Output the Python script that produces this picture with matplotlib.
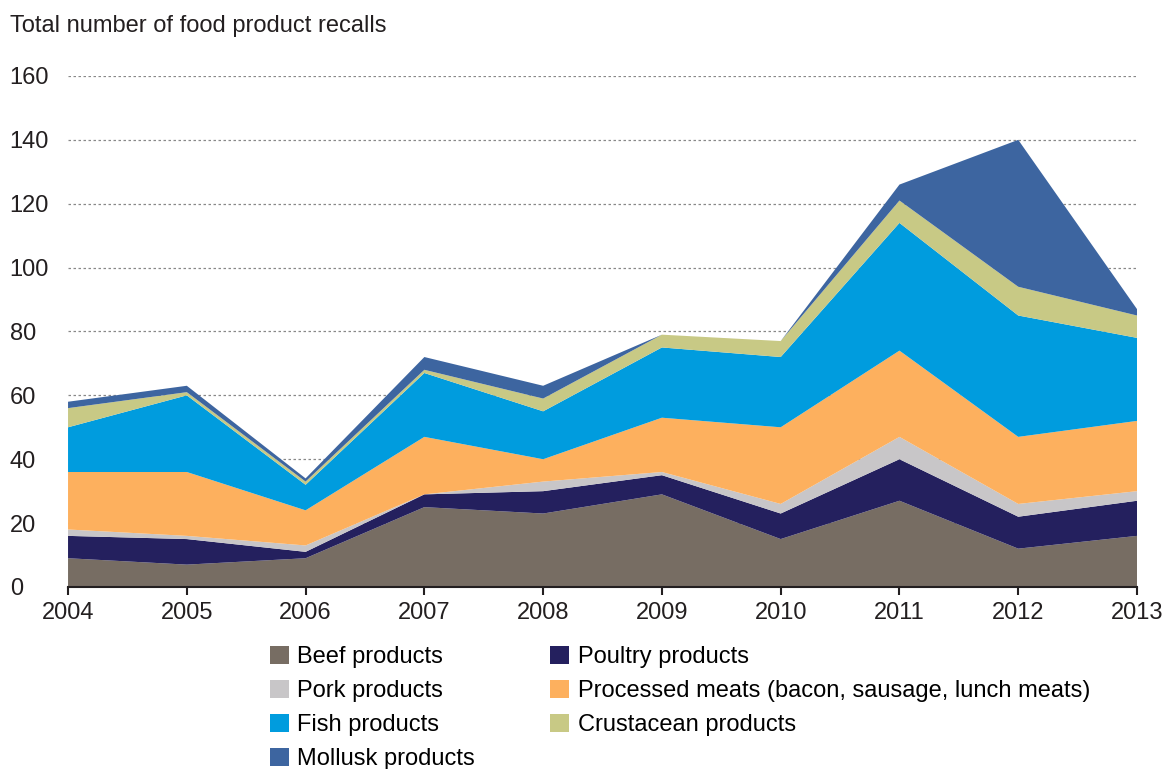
import matplotlib.pyplot as plt
from matplotlib.patches import Patch

plt.rcParams['font.family'] = ['Liberation Sans', 'DejaVu Sans']

years = [2004, 2005, 2006, 2007, 2008, 2009, 2010, 2011, 2012, 2013]
beef = [9, 7, 9, 25, 23, 29, 15, 27, 12, 16]
poultry = [7, 8, 2, 4, 7, 6, 8, 13, 10, 11]
pork = [2, 1, 2, 0, 3, 1, 3, 7, 4, 3]
processed = [18, 20, 11, 18, 7, 17, 24, 27, 21, 22]
fish = [14, 24, 8, 20, 15, 22, 22, 40, 38, 26]
crustacean = [6, 1, 1, 1, 4, 4, 5, 7, 9, 7]
mollusk = [2, 2, 1, 4, 4, 0, 0, 5, 46, 2]

labels = ['Beef products', 'Poultry products', 'Pork products',
          'Processed meats (bacon, sausage, lunch meats)', 'Fish products',
          'Crustacean products', 'Mollusk products']
colors = ['#776d63', '#24205e', '#c8c6c8', '#fdb05e', '#009cde', '#c8c985', '#3d65a0']

fig = plt.figure(figsize=(11.67, 7.69), dpi=100)
ax = fig.add_axes([0.0583, 0.2367, 0.916, 0.6645])

ax.stackplot(years, beef, poultry, pork, processed, fish, crustacean, mollusk,
             colors=colors, linewidth=0)

ax.set_xlim(2004, 2013)
ax.set_ylim(0, 160)
ax.set_yticks(range(0, 161, 20))
ax.set_xticks(years)
for y in range(20, 161, 20):
    ax.axhline(y, color='#888888', linestyle=(0, (2, 2)), linewidth=0.9, zorder=0)

for s in ['top', 'right', 'left']:
    ax.spines[s].set_visible(False)
ax.spines['bottom'].set_color('#231f20')
ax.spines['bottom'].set_linewidth(1.5)
ax.tick_params(axis='y', length=0, labelsize=17, pad=42, colors='#231f20')
ax.tick_params(axis='x', direction='out', length=6, width=1.5, labelsize=17, pad=5,
               colors='#231f20')
for lab in ax.get_yticklabels():
    lab.set_horizontalalignment('left')

fig.text(10 / 1167, 1 - 26 / 769, 'Total number of food product recalls', fontsize=17,
         va='center', ha='left', color='#231f20')

# legend, rows filled left to right
order = [0, 2, 4, 6, 1, 3, 5]
handles = [Patch(facecolor=colors[i], edgecolor='none') for i in order]
fig.legend(handles, [labels[i] for i in order], ncol=2, loc='upper left',
           bbox_to_anchor=(270 / 1167, 1 - 646 / 769), frameon=False, fontsize=17,
           handlelength=0.8, handleheight=0.8, handletextpad=0.35,
           labelspacing=0.5, columnspacing=3.2, borderaxespad=0, borderpad=0)

fig.savefig('out.png', dpi=100)
